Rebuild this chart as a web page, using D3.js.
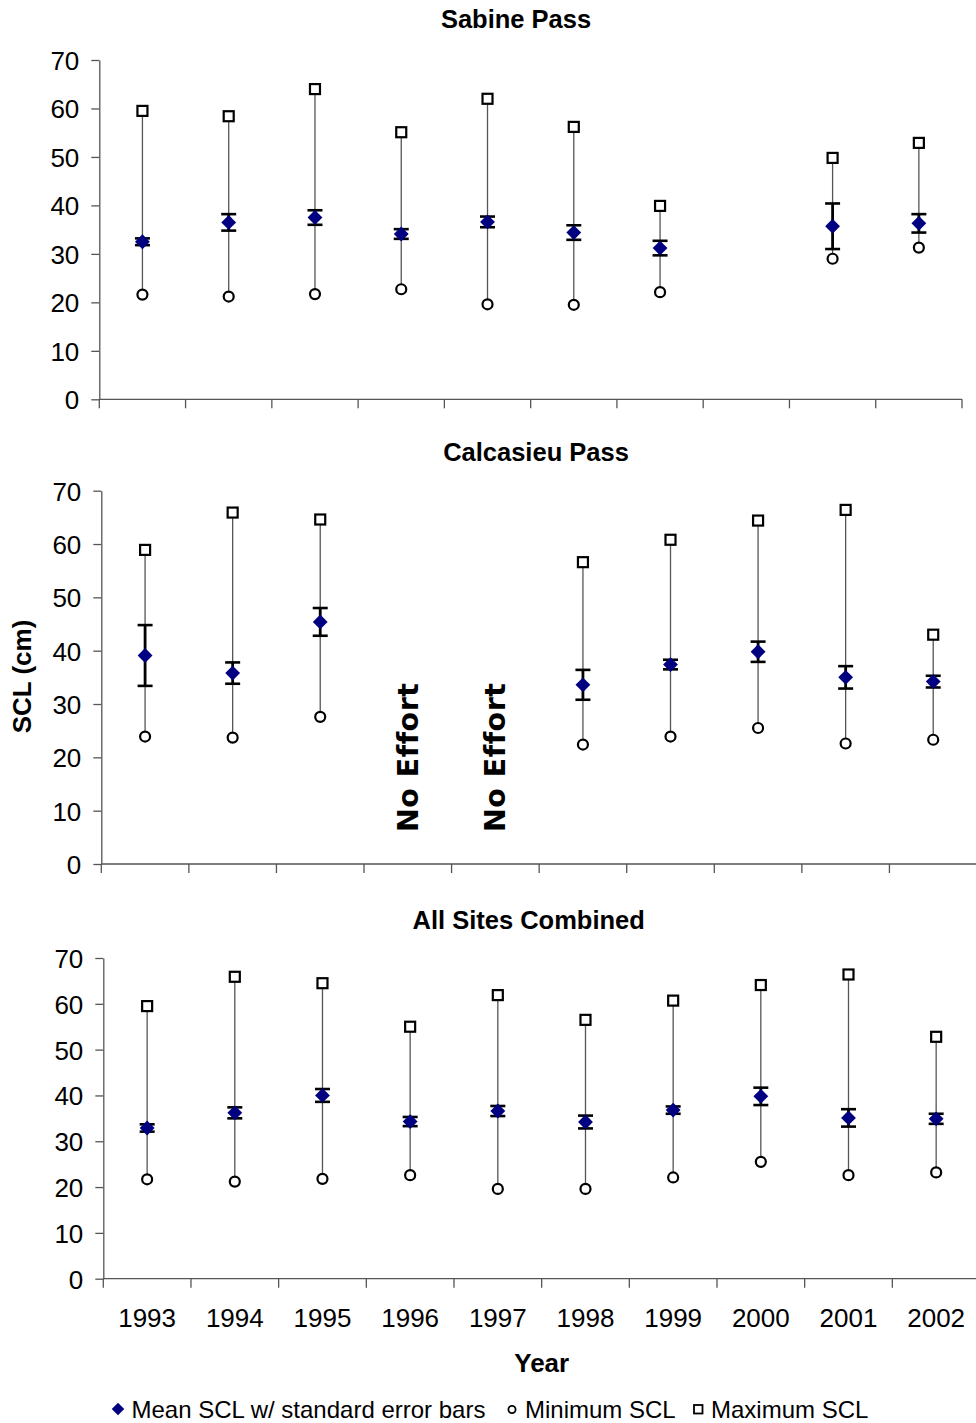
<!DOCTYPE html>
<html>
<head>
<meta charset="utf-8">
<script src="https://cdn.jsdelivr.net/npm/d3@7"></script>
<style>
  html, body { margin: 0; padding: 0; background: #fff; }
  svg { display: block; }
  text { font-family: "Liberation Sans", Arial, sans-serif; fill: #000; }
  text.note { font-family: "DejaVu Sans", sans-serif; font-weight: bold; }
</style>
</head>
<body>
<svg id="chart" width="976" height="1423"></svg>
<script>
// Straight carapace length (cm) by year, three sites
const years = [1993, 1994, 1995, 1996, 1997, 1998, 1999, 2000, 2001, 2002];
const yTicks = [0, 10, 20, 30, 40, 50, 60, 70];

const sabineMean = [32.5, 36.5, 37.5, 34.1, 36.6, 34.4, 31.2, null, 35.7, 36.3];
const sabineSE   = [0.7, 1.7, 1.5, 1.0, 1.1, 1.5, 1.5, null, 4.7, 1.9];
const sabineMin  = [21.6, 21.2, 21.7, 22.7, 19.6, 19.5, 22.1, null, 29.0, 31.3];
const sabineMax  = [59.5, 58.4, 64.0, 55.1, 62.0, 56.2, 39.9, null, 49.8, 52.9];

const calcasieuMean = [39.1, 35.8, 45.4, null, null, 33.6, 37.4, 39.8, 35.0, 34.2];
const calcasieuSE   = [5.7, 2.0, 2.6, null, null, 2.8, 0.9, 1.9, 2.1, 1.1];
const calcasieuMin  = [23.9, 23.7, 27.6, null, null, 22.4, 23.9, 25.5, 22.6, 23.3];
const calcasieuMax  = [58.9, 65.9, 64.6, null, null, 56.6, 60.8, 64.4, 66.4, 43.0];
const calcasieuNoEffort = [1996, 1997];

const combinedMean = [32.9, 36.2, 40.0, 34.3, 36.6, 34.2, 36.8, 39.8, 35.1, 34.9];
const combinedSE   = [0.8, 1.2, 1.4, 1.0, 1.1, 1.4, 0.8, 1.9, 1.9, 1.1];
const combinedMin  = [21.7, 21.2, 21.8, 22.6, 19.6, 19.6, 22.1, 25.5, 22.6, 23.2];
const combinedMax  = [59.5, 65.9, 64.5, 55.0, 61.9, 56.5, 60.7, 64.1, 66.4, 52.8];

const legendLabels = ["Mean SCL w/ standard error bars", "Minimum SCL", "Maximum SCL"];

const svg = d3.select("#chart");
const navy = "#000080";

const panels = [
  { title: "Sabine Pass", mean: sabineMean, se: sabineSE, min: sabineMin, max: sabineMax, notes: [],
    left: 99.3, right: 962, top: 60, bottom: 399.3, titleX: 516, titleY: 28, showYears: false },
  { title: "Calcasieu Pass", mean: calcasieuMean, se: calcasieuSE, min: calcasieuMin, max: calcasieuMax, notes: calcasieuNoEffort,
    left: 101.3, right: 977, top: 490.7, bottom: 864, titleX: 536, titleY: 460.5, showYears: false },
  { title: "All Sites Combined", mean: combinedMean, se: combinedSE, min: combinedMin, max: combinedMax, notes: [],
    left: 103.3, right: 980, top: 958, bottom: 1278.7, titleX: 528.7, titleY: 929, showYears: true }
];

panels.forEach(p => {
  const g = svg.append("g");
  const x = d3.scaleBand().domain(years).range([p.left, p.right]).paddingInner(0).paddingOuter(0);
  const y = d3.scaleLinear().domain([0, 70]).range([p.bottom, p.top]);
  const cx = yr => x(yr) + x.bandwidth() / 2;

  // title
  g.append("text").attr("x", p.titleX).attr("y", p.titleY)
    .attr("text-anchor", "middle").attr("font-size", 25.5).attr("font-weight", "bold")
    .text(p.title);

  // y axis
  const yAxis = d3.axisLeft(y).tickValues(yTicks).tickSize(8).tickPadding(12).tickSizeOuter(0);
  const ya = g.append("g").attr("transform", `translate(${p.left},0)`).call(yAxis);
  ya.select(".domain").attr("stroke", "#555").attr("stroke-width", 1.3);
  ya.selectAll(".tick line").attr("stroke", "#555").attr("stroke-width", 1.3);
  ya.selectAll(".tick text").attr("font-size", 26).attr("fill", "#000").attr("dy", "0.36em");

  // x axis line with ticks at category boundaries
  g.append("line").attr("x1", p.left).attr("x2", p.right).attr("y1", p.bottom).attr("y2", p.bottom)
    .attr("stroke", "#555").attr("stroke-width", 1.3);
  const bounds = years.map(yr => x(yr)).concat([x(years[years.length - 1]) + x.bandwidth()]);
  g.selectAll(".xtick").data(bounds).enter().append("line")
    .attr("x1", d => d).attr("x2", d => d).attr("y1", p.bottom).attr("y2", p.bottom + 9)
    .attr("stroke", "#555").attr("stroke-width", 1.3);

  if (p.showYears) {
    g.selectAll(".yr").data(years).enter().append("text")
      .attr("x", d => cx(d)).attr("y", p.bottom + 48)
      .attr("text-anchor", "middle").attr("font-size", 26).text(d => d);
  }

  const rows = years.map((yr, i) => ({ yr, mean: p.mean[i], se: p.se[i], min: p.min[i], max: p.max[i] }))
    .filter(d => d.mean !== null);

  // high-low lines
  g.selectAll(".hl").data(rows).enter().append("line")
    .attr("x1", d => cx(d.yr)).attr("x2", d => cx(d.yr))
    .attr("y1", d => y(d.min)).attr("y2", d => y(d.max))
    .attr("stroke", "#555").attr("stroke-width", 1.3);

  // standard error bars
  const se = g.selectAll(".se").data(rows).enter().append("g");
  se.append("line")
    .attr("x1", d => cx(d.yr)).attr("x2", d => cx(d.yr))
    .attr("y1", d => y(d.mean - d.se)).attr("y2", d => y(d.mean + d.se))
    .attr("stroke", "#000").attr("stroke-width", 2.8);
  [-1, 1].forEach(s => {
    se.append("line")
      .attr("x1", d => cx(d.yr) - 7.5).attr("x2", d => cx(d.yr) + 7.5)
      .attr("y1", d => y(d.mean + s * d.se)).attr("y2", d => y(d.mean + s * d.se))
      .attr("stroke", "#000").attr("stroke-width", 2.6);
  });

  // maximum squares
  g.selectAll(".mx").data(rows).enter().append("rect")
    .attr("x", d => cx(d.yr) - 5).attr("y", d => y(d.max) - 5)
    .attr("width", 10).attr("height", 10)
    .attr("fill", "#fff").attr("stroke", "#000").attr("stroke-width", 2.2);

  // minimum circles
  g.selectAll(".mn").data(rows).enter().append("circle")
    .attr("cx", d => cx(d.yr)).attr("cy", d => y(d.min)).attr("r", 5)
    .attr("fill", "#fff").attr("stroke", "#000").attr("stroke-width", 2.2);

  // mean diamonds
  const dia = d3.symbol().type(d3.symbolDiamond2).size(140);
  g.selectAll(".mean").data(rows).enter().append("path")
    .attr("d", dia)
    .attr("transform", d => `translate(${cx(d.yr)},${y(d.mean)})`)
    .attr("fill", navy);

  // "No Effort" notes
  g.selectAll(".note").data(p.notes).enter().append("text")
    .attr("class", "note")
    .attr("transform", d => `translate(${cx(d) + 10},${y(6)}) rotate(-90)`)
    .attr("font-size", 28.5).attr("letter-spacing", 0.5).text("No Effort");
});

// shared y-axis title
svg.append("text")
  .attr("transform", "translate(31,676.5) rotate(-90)")
  .attr("text-anchor", "middle").attr("font-size", 26).attr("font-weight", "bold")
  .text("SCL (cm)");

// x-axis title
svg.append("text").attr("x", 541.7).attr("y", 1371.7)
  .attr("text-anchor", "middle").attr("font-size", 26).attr("font-weight", "bold")
  .text("Year");

// legend
const lg = svg.append("g");
lg.append("path").attr("d", d3.symbol().type(d3.symbolDiamond2).size(100))
  .attr("transform", "translate(118,1409)").attr("fill", navy);
lg.append("text").attr("x", 131.5).attr("y", 1417.7).attr("font-size", 24).text(legendLabels[0]);
lg.append("circle").attr("cx", 512).attr("cy", 1409.5).attr("r", 3.6)
  .attr("fill", "#fff").attr("stroke", "#000").attr("stroke-width", 1.8);
lg.append("text").attr("x", 525).attr("y", 1417.7).attr("font-size", 24).text(legendLabels[1]);
lg.append("rect").attr("x", 694).attr("y", 1405).attr("width", 8.5).attr("height", 8.5)
  .attr("fill", "#fff").attr("stroke", "#000").attr("stroke-width", 1.8);
lg.append("text").attr("x", 711).attr("y", 1417.7).attr("font-size", 24).text(legendLabels[2]);
</script>
</body>
</html>
